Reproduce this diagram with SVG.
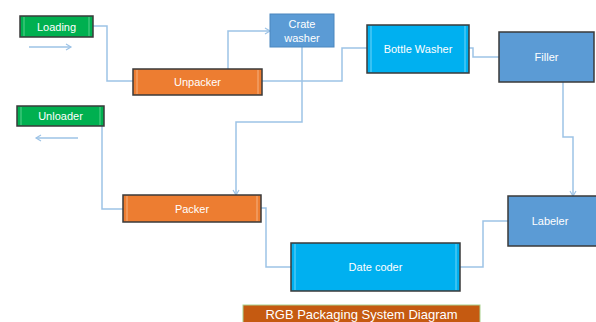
<svg xmlns="http://www.w3.org/2000/svg" width="596" height="322" viewBox="0 0 596 322">
<defs>
<marker id="ah" markerWidth="8" markerHeight="8" refX="6" refY="4" orient="auto" markerUnits="userSpaceOnUse">
<path d="M1,1 L6,4 L1,7" fill="none" stroke="#9DC3E6" stroke-width="1.2"/>
</marker>
<style>
.c{fill:none;stroke:#9DC3E6;stroke-width:1.5}
.b{stroke:#3a3a3a;stroke-width:1.5}
.side{stroke-width:1;opacity:0.7}
.t{font-family:"Liberation Sans",Arial,sans-serif;font-size:11px;fill:#fff;text-anchor:middle;dominant-baseline:central}
.green{fill:#00B050}
.orange{fill:#ED7D31}
.blue{fill:#5B9BD5}
.cyan{fill:#00B0F0}
</style>
</defs>
<rect width="596" height="322" fill="#fff"/>
<g id="connectors">
<path class="c" d="M93,26 H107 V81 H133"/>
<path class="c" d="M228,69 V31 H270" marker-end="url(#ah)"/>
<path class="c" d="M262,81 H342 V48 H367"/>
<path class="c" d="M302,47 V122 H236 V195" marker-end="url(#ah)"/>
<path class="c" d="M469,48 H473 V57 H499"/>
<path class="c" d="M563,82 V137 H573 V196" marker-end="url(#ah)"/>
<path class="c" d="M508,221 H483 V267 H460"/>
<path class="c" d="M291,267 H266 V208 H261"/>
<path class="c" d="M123,209 H102 V126"/>
<path class="c" d="M29,47 H71" marker-end="url(#ah)"/>
<path class="c" d="M78,138 H36" marker-end="url(#ah)"/>
</g>
<g id="loading">
<rect class="b green" x="20" y="16" width="73" height="21"/>
<line class="side" stroke="#7fe0a8" x1="24" y1="17" x2="24" y2="36"/>
<line class="side" stroke="#7fe0a8" x1="89" y1="17" x2="89" y2="36"/>
<text class="t" x="56.5" y="26.5">Loading</text>
</g>
<g id="unloader">
<rect class="b green" x="17" y="106" width="87" height="20"/>
<line class="side" stroke="#7fe0a8" x1="21" y1="107" x2="21" y2="125"/>
<line class="side" stroke="#7fe0a8" x1="100" y1="107" x2="100" y2="125"/>
<text class="t" x="60.5" y="116">Unloader</text>
</g>
<g id="unpacker">
<rect class="b orange" x="133" y="69" width="129" height="26"/>
<line class="side" stroke="#f8c8a4" x1="137" y1="70" x2="137" y2="94"/>
<line class="side" stroke="#f8c8a4" x1="258" y1="70" x2="258" y2="94"/>
<text class="t" x="197.5" y="82">Unpacker</text>
</g>
<g id="crate-washer">
<rect class="blue" x="270" y="14" width="64" height="33" stroke="#4a86be" stroke-width="1"/>
<text class="t" x="302" y="24">Crate</text>
<text class="t" x="302" y="38">washer</text>
</g>
<g id="bottle-washer">
<rect class="b cyan" x="367" y="25" width="102" height="48"/>
<line class="side" stroke="#9fe4fb" x1="371" y1="26" x2="371" y2="72"/>
<line class="side" stroke="#9fe4fb" x1="465" y1="26" x2="465" y2="72"/>
<text class="t" x="418" y="49">Bottle Washer</text>
</g>
<g id="filler">
<rect class="b blue" x="499" y="32" width="95" height="50"/>
<text class="t" x="546.5" y="57">Filler</text>
</g>
<g id="packer">
<rect class="b orange" x="123" y="195" width="138" height="27"/>
<line class="side" stroke="#f8c8a4" x1="127" y1="196" x2="127" y2="221"/>
<line class="side" stroke="#f8c8a4" x1="257" y1="196" x2="257" y2="221"/>
<text class="t" x="192" y="208.5">Packer</text>
</g>
<g id="date-coder">
<rect class="b cyan" x="291" y="243" width="169" height="48"/>
<line class="side" stroke="#9fe4fb" x1="295" y1="244" x2="295" y2="290"/>
<line class="side" stroke="#9fe4fb" x1="456" y1="244" x2="456" y2="290"/>
<text class="t" x="375.5" y="267">Date coder</text>
</g>
<g id="labeler">
<rect class="b blue" x="508" y="196" width="92" height="50"/>
<text class="t" x="550" y="221">Labeler</text>
</g>
<g id="title">
<rect x="243" y="305" width="237" height="20" fill="#C55A11" stroke="#A9D18E" stroke-width="1"/>
<text class="t" x="361.5" y="314" style="font-size:13px">RGB Packaging System Diagram</text>
</g>
</svg>
